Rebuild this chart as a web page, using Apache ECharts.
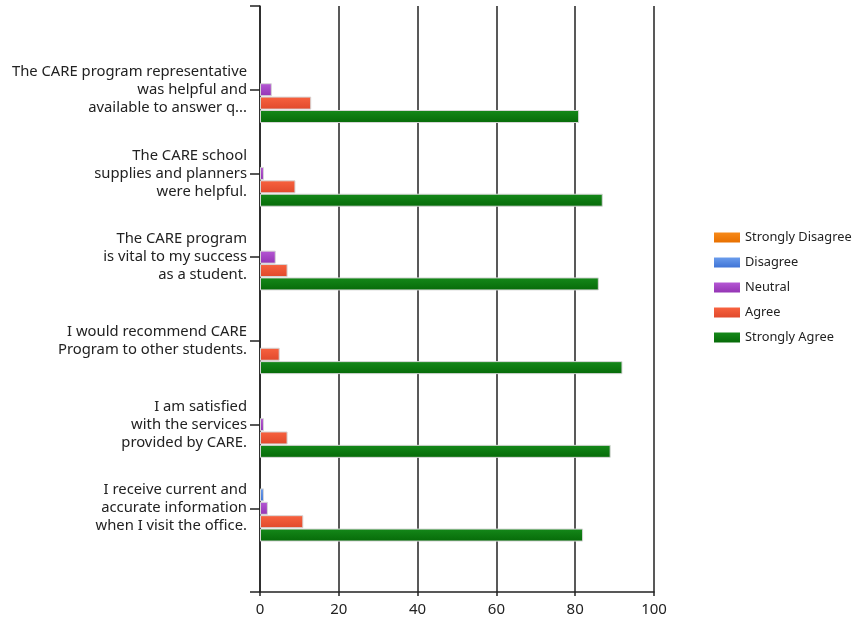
<!DOCTYPE html>
<html>
<head>
<meta charset="utf-8">
<script src="https://cdn.jsdelivr.net/npm/echarts@6/dist/echarts.min.js"></script>
<style>
html,body{margin:0;padding:0;background:#fff;}
#chart{width:857px;height:625px;}
</style>
</head>
<body>
<div id="chart"></div>
<script>
// Categories, top to bottom
const categories = [
  "The CARE program representative\nwas helpful and\navailable to answer q...",
  "The CARE school\nsupplies and planners\nwere helpful.",
  "The CARE program\nis vital to my success\nas a student.",
  "I would recommend CARE\nProgram to other students.",
  "I am satisfied\nwith the services\nprovided by CARE.",
  "I receive current and\naccurate information\nwhen I visit the office."
];
const seriesNames = ["Strongly Disagree", "Disagree", "Neutral", "Agree", "Strongly Agree"];
const stronglyDisagree = [0, 0, 0, 0, 0, 0];
const disagree = [0, 0, 0, 0, 0, 1];
const neutral = [3, 1, 4, 0, 1, 2];
const agree = [13, 9, 7, 5, 7, 11];
const stronglyAgree = [81, 87, 86, 92, 89, 82];
const xTicks = [0, 20, 40, 60, 80, 100];

const colorStops = [
  ["#f78a1a", "#e87000"],
  ["#6a9cec", "#3f74d6"],
  ["#b558d4", "#9434b4"],
  ["#f8623f", "#e0492c"],
  ["#15891a", "#066a08"]
];
const allValues = [stronglyDisagree, disagree, neutral, agree, stronglyAgree];

const chart = echarts.init(document.getElementById('chart'), null, {renderer: 'canvas'});
const yData = [''].concat(categories, ['']);
const font = 'Noto Sans';

const series = seriesNames.map((name, i) => ({
  name: name,
  type: 'bar',
  barWidth: 13,
  barGap: '3%',
  data: ['-'].concat(allValues[i].map(v => v === 0 ? '-' : v), ['-']),
  itemStyle: {
    color: new echarts.graphic.LinearGradient(0, 0, 0, 1, [
      {offset: 0, color: colorStops[i][0]},
      {offset: 1, color: colorStops[i][1]}
    ]),
    borderColor: '#d6d6d6',
    borderWidth: 1
  },
  emphasis: {disabled: true}
}));

chart.setOption({
  animation: false,
  backgroundColor: '#ffffff',
  textStyle: {fontFamily: font},
  legend: {
    orient: 'vertical',
    left: 714,
    top: 231,
    padding: 0,
    itemWidth: 26,
    itemHeight: 10,
    itemGap: 12,
    icon: 'rect',
    itemStyle: {borderWidth: 0},
    textStyle: {fontFamily: font, fontSize: 12.8, lineHeight: 13, color: '#222'},
    data: seriesNames
  },
  grid: {
    left: 260,
    right: 203,
    top: 6,
    bottom: 33,
    containLabel: false,
    outerBoundsMode: 'none'
  },
  xAxis: {
    type: 'value',
    min: 0,
    max: 100,
    interval: 20,
    axisLine: {show: true, lineStyle: {color: '#222', width: 1.5}},
    axisTick: {show: true, length: 4, lineStyle: {color: '#222', width: 1.5}},
    axisLabel: {color: '#222', fontSize: 15, fontFamily: font, margin: 10,
      formatter: v => xTicks.includes(v) ? String(v) : ''},
    splitLine: {show: true, lineStyle: {color: '#222', width: 1.5}}
  },
  yAxis: {
    type: 'category',
    inverse: true,
    boundaryGap: false,
    data: yData,
    axisLine: {show: true, lineStyle: {color: '#222', width: 1.5}},
    axisTick: {show: true, length: 10, lineStyle: {color: '#222', width: 1.5}},
    axisLabel: {color: '#222', fontSize: 14.8, fontFamily: font, margin: 13,
      lineHeight: 18, align: 'right', interval: 0},
    splitLine: {show: false}
  },
  series: series
});
</script>
</body>
</html>
